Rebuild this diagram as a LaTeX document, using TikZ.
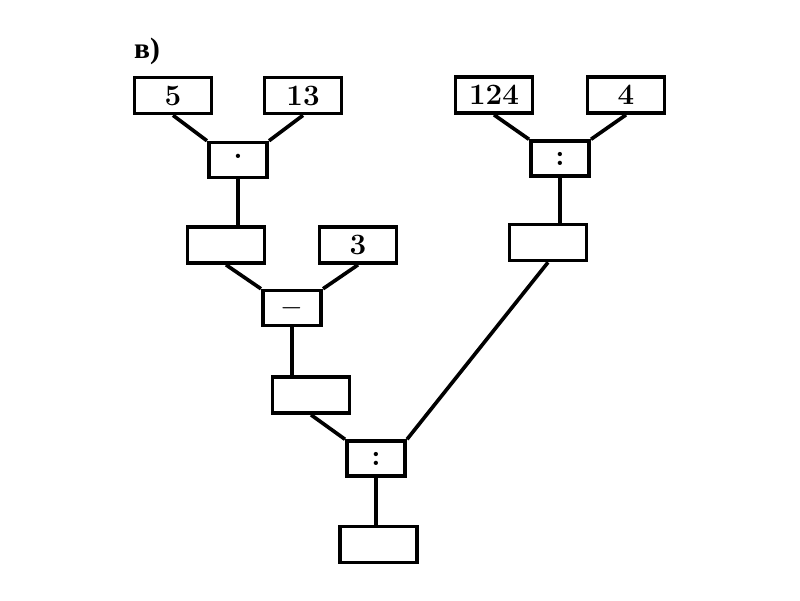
\documentclass[tikz,border=0pt]{standalone}
\usepackage{fontspec}
\newfontfamily\cyrfont{Liberation Serif}
\usetikzlibrary{positioning}

\begin{document}
\begin{tikzpicture}[
  x=0.025cm, y=-0.025cm,
  font=\fontsize{21}{25}\selectfont\bfseries,
  box/.style={draw, rectangle, minimum width=1.93cm, minimum height=0.9cm, inner sep=0pt, line width=2.6pt},
  opbox/.style={box, minimum width=1.46cm, minimum height=0.87cm},
  link/.style={line width=2.6pt},
]
\useasboundingbox (0,0) rectangle (800,600);

% label
\node[font=\cyrfont\fontsize{21}{24}\selectfont\bfseries] (lbl) at (147,51) {в)};

% left branch
\node[box] (n5) at (173,95.5) {5};
\node[box] (n13) at (303,95.5) {13};
\node[opbox] (mul) at (238,160) {·};
\node[box] (r1) at (226,245) {};
\node[box] (n3) at (358,245) {3};
\node[opbox] (minus) at (292,308) {$-$};
\node[box] (r2) at (311,395) {};

% right branch
\node[box] (n124) at (494,95) {124};
\node[box] (n4) at (626,95) {4};
\node[opbox] (div) at (560,158.5) {:};
\node[box] (r3) at (548,242.5) {};

% bottom
\node[opbox] (fin) at (376,458.5) {:};
\node[box] (res) at (378.5,544.5) {};

\draw[link] (n5.south) -- (mul.north west);
\draw[link] (n13.south) -- (mul.north east);
\draw[link] (mul.south) -- (mul.south |- r1.north);
\draw[link] (n124.south) -- (div.north west);
\draw[link] (n4.south) -- (div.north east);
\draw[link] (div.south) -- (div.south |- r3.north);
\draw[link] (r1.south) -- (minus.north west);
\draw[link] (n3.south) -- (minus.north east);
\draw[link] (minus.south) -- (minus.south |- r2.north);
\draw[link] (r2.south) -- (fin.north west);
\draw[link] (r3.south) -- (fin.north east);
\draw[link] (fin.south) -- (fin.south |- res.north);
\end{tikzpicture}
\end{document}
